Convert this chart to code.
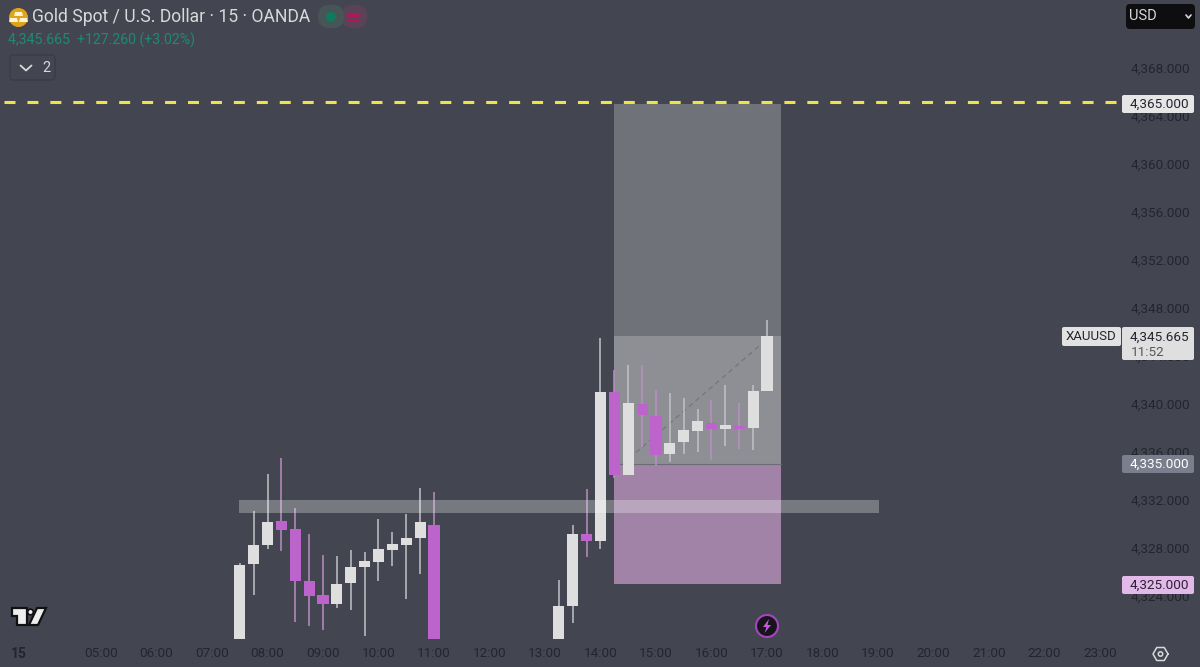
import numpy as np, pandas as pd, matplotlib
matplotlib.use("Agg")
import matplotlib.pyplot as plt, seaborn as sns
from matplotlib.patches import Rectangle, FancyBboxPatch, Circle, Polygon

# ---- data ----
hours = [7.5,7.75,8,8.25,8.5,8.75,9,9.25,9.5,9.75,10,10.25,10.5,10.75,11,
         13.25,13.5,13.75,14,14.25,14.5,14.75,15,15.25,15.5,15.75,16,16.25,16.5,16.75,17]
opens = [4320.0,4326.69,4328.28,4330.25,4329.56,4325.25,4324.08,4323.33,4325.11,4326.42,4326.86,4327.81,4328.22,4328.81,4329.92,
         4320.0,4323.14,4329.14,4328.58,4340.97,4334.06,4340.0,4339.03,4335.8,4336.8,4337.78,4338.44,4337.94,4338.19,4338.0,4341.05]
closes = [4326.58,4328.25,4330.19,4329.53,4325.28,4324.03,4323.33,4325.03,4326.39,4326.92,4327.89,4328.31,4328.83,4330.14,4320.0,
          4323.19,4329.17,4328.61,4340.97,4334.06,4340.08,4339.05,4335.78,4336.72,4337.8,4338.58,4337.94,4338.25,4337.89,4341.05,4345.665]
highs = [4326.72,4331.08,4334.14,4335.53,4331.31,4329.14,4327.42,4327.33,4327.81,4327.69,4330.39,4329.33,4330.81,4332.97,4332.69,
         4325.33,4329.92,4332.89,4345.53,4342.83,4343.25,4343.25,4341.17,4340.94,4340.52,4339.55,4340.33,4341.55,4340.05,4341.55,4347.0]
lows = [4320.0,4324.11,4327.94,4327.75,4321.81,4321.53,4321.17,4323.03,4322.83,4320.67,4325.22,4326.53,4323.78,4325.86,4320.0,
        4320.0,4321.78,4327.22,4327.89,4333.85,4334.06,4336.44,4334.86,4335.16,4335.83,4336.02,4335.33,4336.53,4336.25,4336.17,4341.05]
price_ticks = [4324,4328,4332,4336,4340,4344,4348,4352,4356,4360,4364,4368]
hour_ticks = list(range(5,24))
target, entry, stop, last = 4365.0, 4335.0, 4325.0, 4345.665
level_line = 4365.2
zone_start, zone_end = 14.243, 17.252
band_low, band_high, band_start, band_end = 4330.92, 4332.0, 7.486, 19.02
diagonal_x, diagonal_y = [14.4, 17.0], [4335.0, 4345.4]

BG, UP, DOWN, TXT = "#434650", "#dedede", "#bd64cc", "#23252f"
sns.set_theme(style="white", rc={"axes.facecolor":BG,"figure.facecolor":BG})
plt.rcParams["font.family"] = ["Roboto","DejaVu Sans"]
FS = 9.7

df = pd.DataFrame(dict(h=hours,o=opens,c=closes,hi=highs,lo=lows))
df["up"] = df.c >= df.o
wicks = pd.concat([df.assign(p=df.hi), df.assign(p=df.lo)])

fig = plt.figure(figsize=(12,6.67), dpi=100)
ax = fig.add_axes([0, 28/667, 1122/1200, 639/667])
ax.set_xlim(5-101/55.5, 5+1021/55.5)
ax.set_ylim(4324-43/12, 4324+596/12)

# position zones
ax.add_patch(Rectangle((zone_start,last), zone_end-zone_start, target-last, fc="#6f7279", ec="none", zorder=1))
ax.add_patch(Rectangle((zone_start,entry), zone_end-zone_start, last-entry, fc="#8e8f94", ec="none", zorder=1))
ax.add_patch(Rectangle((zone_start,stop), zone_end-zone_start, entry-stop, fc="#a083a6", ec="none", zorder=1))
ax.plot([zone_start,zone_end],[entry,entry],color="#6b6d74",lw=0.8,zorder=1.2)
ax.plot(diagonal_x,diagonal_y,color="#74767c",lw=0.9,ls=(0,(4,3)),zorder=1.5)

# wicks and bodies
for up,col,wc in ((True,UP,"#c2c3c7"),(False,DOWN,"#b98fc4")):
    sub = wicks[wicks.up==up]
    sns.lineplot(data=sub,x="h",y="p",units="h",estimator=None,color=wc,lw=1.1,
                 legend=False,ax=ax,zorder=3,sort=False,solid_capstyle="butt")
    d = df[df.up==up]
    ax.bar(d.h, (d.c-d.o).abs(), bottom=d[["o","c"]].min(axis=1), width=0.2, color=col, lw=0, zorder=4)

# horizontal band
ax.add_patch(Rectangle((band_start,band_low), band_end-band_start, band_high-band_low,
                       fc="white", alpha=.28, ec="none", zorder=5))
# yellow level
ax.axhline(level_line,color="#efe24a",lw=2.2,ls=(6.2,(3.6,3.907)),zorder=6)

ax.yaxis.tick_right()
ax.set_yticks(price_ticks, [f"{p:,.3f}" for p in price_ticks])
ax.set_xticks(hour_ticks, [f"{h:02d}:00" for h in hour_ticks])
ax.tick_params(axis="both",length=0,labelcolor=TXT,labelsize=FS)
ax.tick_params(axis="y",pad=6)
ax.tick_params(axis="x",pad=6)
ax.set_xlabel(""); ax.set_ylabel("")
for s in ax.spines.values(): s.set_visible(False)
ax.grid(False)

# ---- overlay in pixels ----
ov = fig.add_axes([0,0,1,1],zorder=10)
ov.set_xlim(0,1200); ov.set_ylim(667,0); ov.axis("off"); ov.patch.set_alpha(0)

def box(x0,y0,x1,y1,fc,r=2,ec="none",lw=0):
    ov.add_patch(FancyBboxPatch((x0+r,y0+r),x1-x0-2*r,y1-y0-2*r,boxstyle=f"round,pad={r},rounding_size={r}",fc=fc,ec=ec,lw=lw))

def pricebox(y,txt,fc,tc):
    box(1122,y-9,1194,y+9,fc)
    ov.text(1189.5,y,txt,color=tc,ha="right",va="center",fontsize=FS)

pricebox(104,"4,365.000","#e6e6e6","#23252f")
pricebox(464,"4,335.000","#7b7e8c","#ffffff")
pricebox(585,"4,325.000","#e3b9ea","#2a2233")
box(1122,327,1194,360,"#dfdfdf")
ov.text(1189.5,337,"4,345.665",color="#23252f",ha="right",va="center",fontsize=FS)
ov.text(1131,352,"11:52",color="#55575e",ha="left",va="center",fontsize=FS)
box(1062,327,1121,346,"#e2e2e2")
ov.text(1091.5,337,"XAUUSD",color="#23252f",ha="center",va="center",fontsize=9.5)

# header
ov.add_patch(Circle((18.5,17.5),9.5,fc="#e0a31c",ec="none"))
for xs,ys in (((15,22,23,14),(12,12,16,16)),((10,17,18,9),(18,18,22,22)),((20,27,28,19),(18,18,22,22))):
    ov.add_patch(Polygon(list(zip(xs,ys)),fc="#fff3d0",ec="none"))
ov.text(32,22.5,"Gold Spot / U.S. Dollar · 15 · OANDA",color="#d9d9dc",ha="left",va="baseline",fontsize=12.65)
ov.text(8,45,"4,345.665  +127.260 (+3.02%)",color="#1d8a74",ha="left",va="baseline",fontsize=FS+.5)
box(10,55,55,80,BG,r=3,ec="#3a3d46",lw=1)
ov.plot([20.5,26,31.5],[65.5,70.5,65.5],color="#d9d9dc",lw=1.3)
ov.text(46,68,"2",color="#d9d9dc",ha="center",va="center",fontsize=10.5)
box(342,5,367,28,"#5c4258",r=11)
box(318,5,344,28,"#465657",r=11)
ov.add_patch(Circle((331,17),5,fc="#0f7a5e",ec="none"))
ov.add_patch(Rectangle((348,13.5),12,3,fc="#b01858",ec="none"))
ov.add_patch(Rectangle((348,18.5),12,3,fc="#b01858",ec="none"))

box(1126,4,1195,29,"#0e0e10",r=4)
ov.text(1129,16.5,"USD",color="#d9d9dc",ha="left",va="center",fontsize=10.5)
ov.plot([1186,1188.5,1191],[15,18,15],color="#d9d9dc",lw=1.2)

# bottom
ov.text(18.5,654,"15",color=TXT,ha="center",va="center",fontsize=FS+.3,fontweight="bold")
ov.add_patch(Polygon([(12,608),(27,608),(27,625),(17,625),(17,616),(12,616)],fc="#eeeeee",ec="#111",lw=1.6))
ov.add_patch(Polygon([(37,608),(46,608),(38,625),(29,625)],fc="#eeeeee",ec="#111",lw=1.6))
ov.add_patch(Circle((30.5,612),2.8,fc="#eeeeee",ec="#111",lw=1.2))
t = np.deg2rad(np.arange(0,361,60))
ov.plot(1160.5+7.5*np.cos(t),654+7.5*np.sin(t),color="#d9d9dc",lw=1.1)
ov.add_patch(Circle((1160.5,654),2.2,fc="none",ec="#d9d9dc",lw=1.1))
ov.add_patch(Circle((767,626),11,fc="#17141c",ec="#a744bf",lw=1.5))
ov.add_patch(Polygon([(769,619),(763,627),(766.5,627),(764.5,633),(771,625),(767.5,625)],fc="#c65ad8",ec="none"))

fig.savefig("out.png",dpi=100,facecolor=BG)
